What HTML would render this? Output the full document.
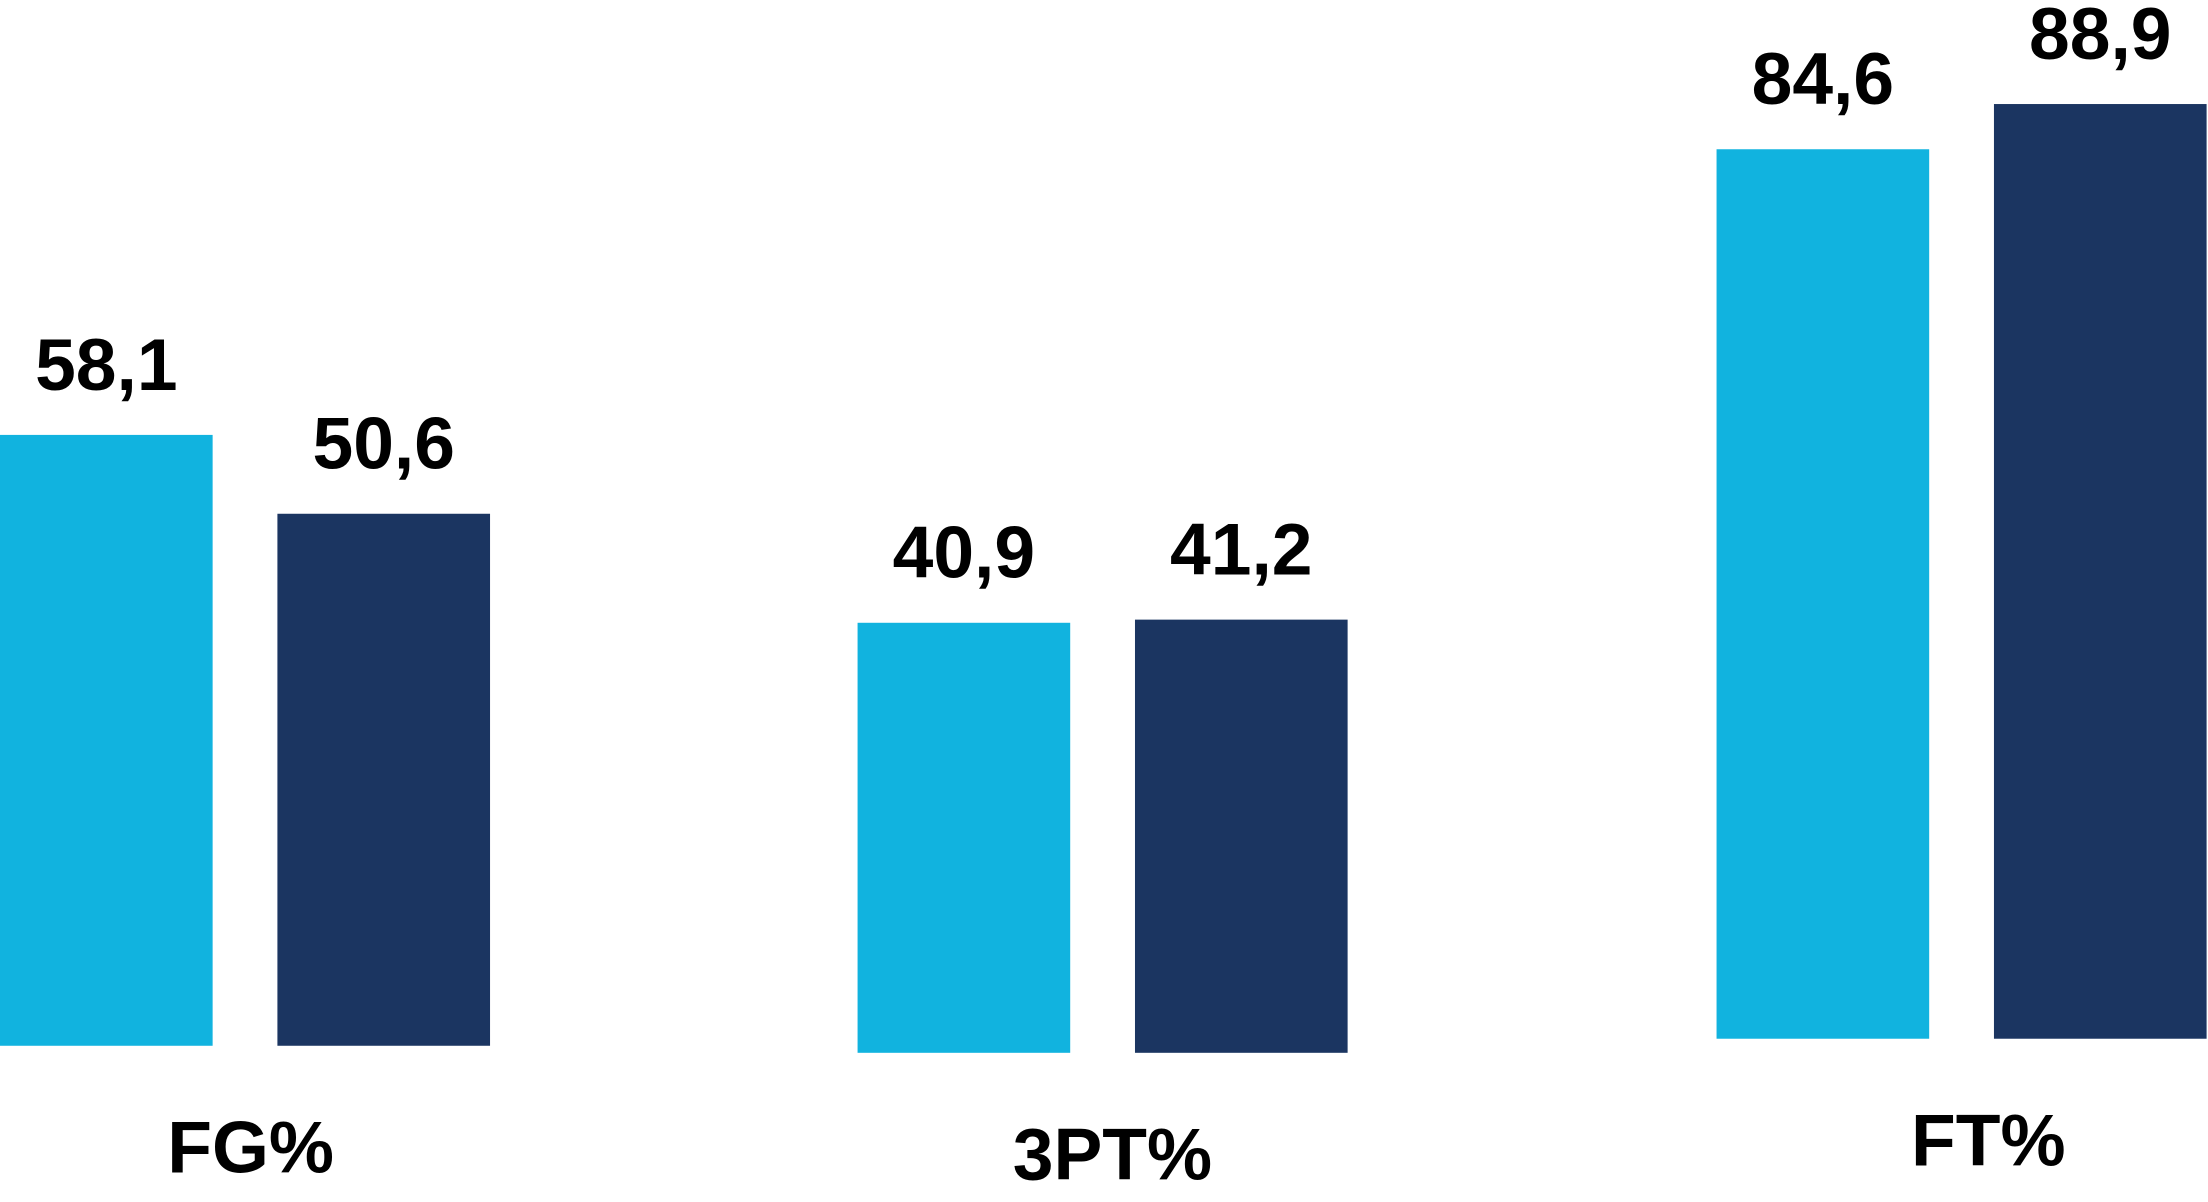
<!DOCTYPE html>
<html><head><meta charset="utf-8"><style>
html,body{margin:0;padding:0;background:#fff;}
svg{display:block;}
text{font-family:"Liberation Sans",sans-serif;font-weight:bold;fill:#000;}
</style></head><body>
<svg id="chart" width="2208" height="1202" viewBox="0 0 1568 854" preserveAspectRatio="none" xmlns="http://www.w3.org/2000/svg"></svg>
<script>
const categories = ["FG%", "3PT%", "FT%"];
const seriesA = [58.1, 40.9, 84.6];
const seriesB = [50.6, 41.2, 88.9];
const valueLabelsA = ["58,1", "40,9", "84,6"];
const valueLabelsB = ["50,6", "41,2", "88,9"];

const svg = document.getElementById('chart');
const NS = 'http://www.w3.org/2000/svg';
const groupX = [0, 609, 1219];
const baselines = [743, 748, 738];
const catLabelY = [833, 838, 828];
const catLabelX = [178, 790, 1412];
const barW = 151, barGap = 46;
const pxPerUnit = 7.47;
function yScale(v, g) { return baselines[g] - v * pxPerUnit; }

function addRect(x, y, w, h, fill, name) {
  const r = document.createElementNS(NS, 'rect');
  r.setAttribute('x', x); r.setAttribute('y', y);
  r.setAttribute('width', w); r.setAttribute('height', h);
  r.setAttribute('fill', fill);
  
  
  svg.appendChild(r);
}
function addText(x, y, s, name) {
  const t = document.createElementNS(NS, 'text');
  t.setAttribute('x', x); t.setAttribute('y', y);
  t.setAttribute('text-anchor', 'middle');
  t.setAttribute('font-size', '52');
  t.textContent = s;
  
  
  svg.appendChild(t);
}
categories.forEach((c, i) => {
  const xa = groupX[i], xb = groupX[i] + barW + barGap;
  const ya = yScale(seriesA[i], i), yb = yScale(seriesB[i], i);
  addRect(xa, ya, barW, baselines[i] - ya, '#11b3df', 'bar-a-' + i);
  addRect(xb, yb, barW, baselines[i] - yb, '#1b3561', 'bar-b-' + i);
  addText(xa + barW / 2, ya - 32, valueLabelsA[i], 'value-label-a-' + i);
  addText(xb + barW / 2, yb - 32, valueLabelsB[i], 'value-label-b-' + i);
  addText(catLabelX[i], catLabelY[i], c, 'category-label-' + i);
});
</script>
</body></html>
